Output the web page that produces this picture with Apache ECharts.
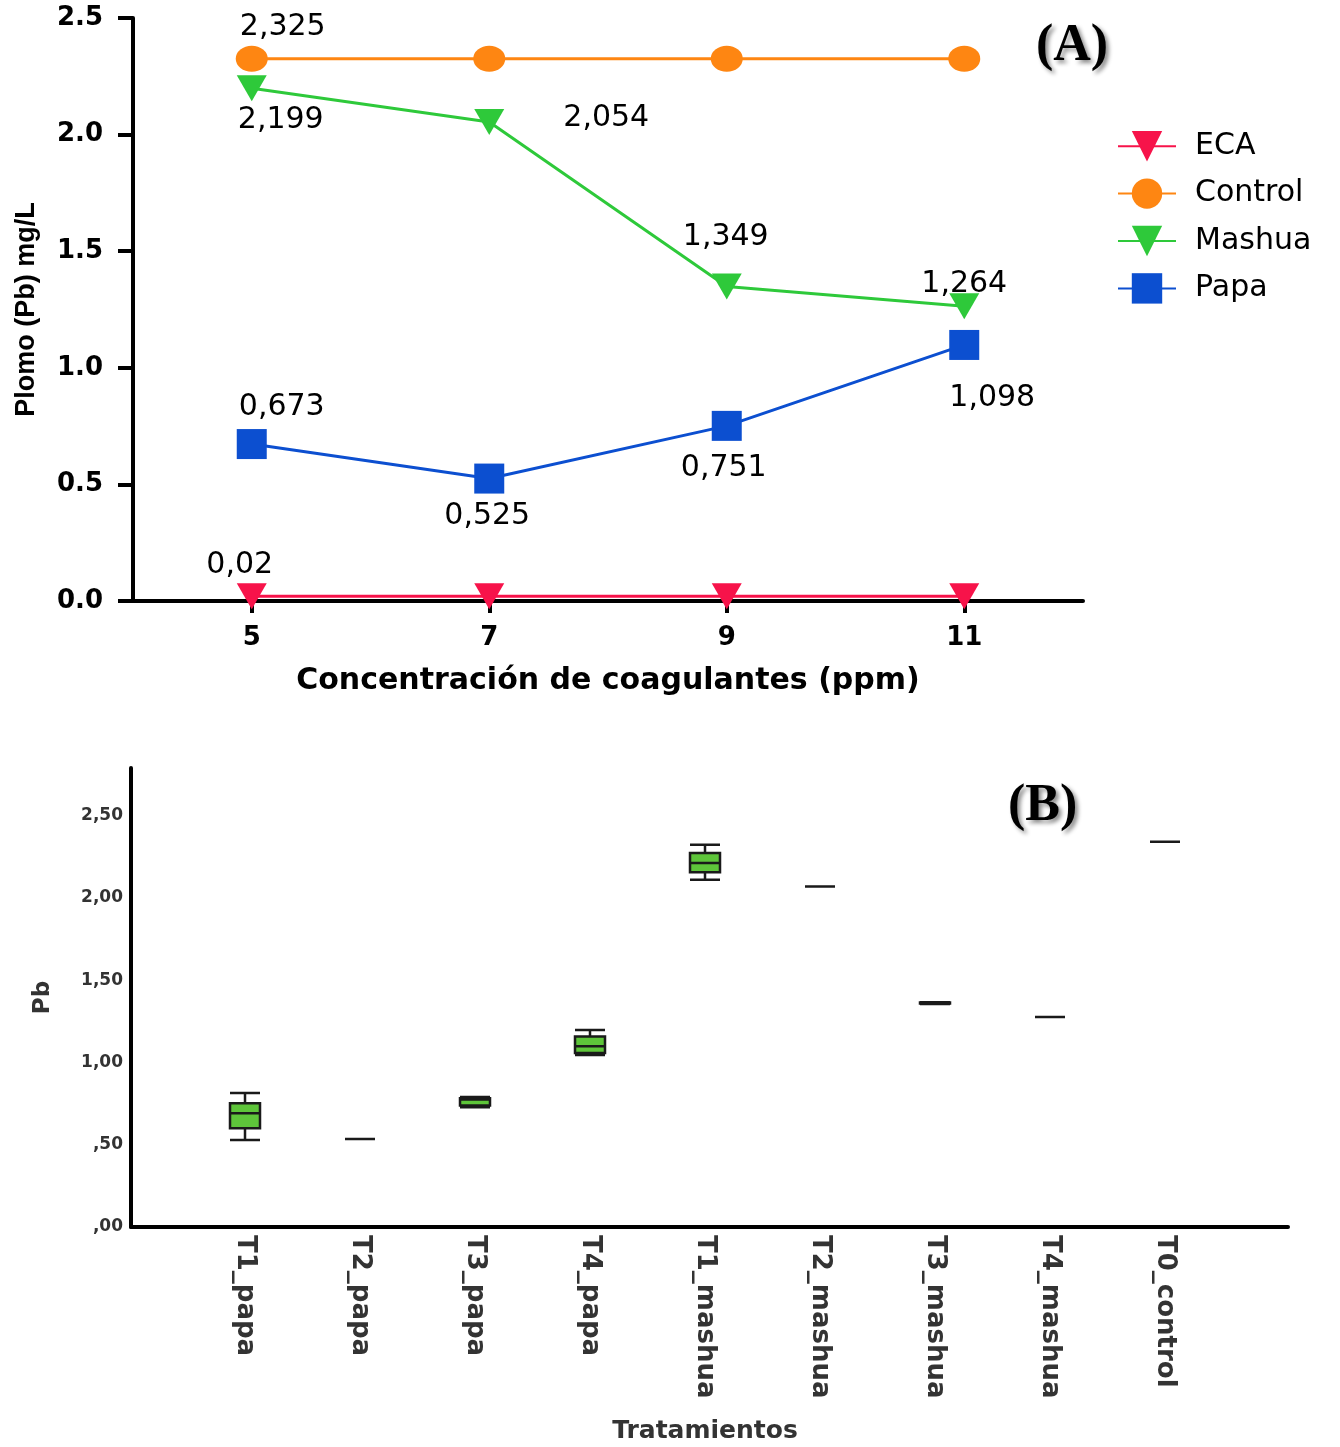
<!DOCTYPE html>
<html><head><meta charset="utf-8">
<script src="https://cdn.jsdelivr.net/npm/echarts@6/dist/echarts.min.js"></script>
<style>html,body{margin:0;padding:0;background:#fff}#c{width:1340px;height:1447px}</style>
</head><body><div id="c"></div>
<script>
// ---------- Data (A) ----------
const concentrations = [5, 7, 9, 11];
const ecaValues = [0.02, 0.02, 0.02, 0.02];
const controlValues = [2.325, 2.325, 2.325, 2.325];
const mashuaValues = [2.199, 2.054, 1.349, 1.264];
const papaValues = [0.673, 0.525, 0.751, 1.098];
const yTicksA = [0, 0.5, 1, 1.5, 2, 2.5];

// ---------- Data (B) ----------
const treatments = ['T1_papa','T2_papa','T3_papa','T4_papa','T1_mashua','T2_mashua','T3_mashua','T4_mashua','T0_control'];
// [min, Q1, median, Q3, max]
const boxT1papa   = [0.529, 0.601, 0.692, 0.752, 0.814];
const boxT2papa   = [0.535, 0.535, 0.535, 0.535, 0.535];
const boxT3papa   = [0.728, 0.738, 0.775, 0.783, 0.790];
const boxT4papa   = [1.046, 1.058, 1.098, 1.158, 1.198];
const boxT1mashua = [2.111, 2.156, 2.212, 2.273, 2.324];
const boxT2mashua = [2.070, 2.070, 2.070, 2.070, 2.070];
const boxT3mashua = [1.356, 1.358, 1.361, 1.364, 1.366];
const boxT4mashua = [1.276, 1.276, 1.276, 1.276, 1.276];
const boxT0control= [2.342, 2.342, 2.342, 2.342, 2.342];
const yTicksB = [0, 0.5, 1, 1.5, 2, 2.5];

const boxData = [boxT1papa, boxT2papa, boxT3papa, boxT4papa, boxT1mashua, boxT2mashua, boxT3mashua, boxT4mashua, boxT0control];

// ---------- Styles ----------
const labelFont = {fontFamily: 'DejaVu Sans', fontSize: 30, color: '#000'};
const fmtComma = v => String(v).replace('.', ',');

function lineSeries(name, vals, color, symbol, size, rotate, offsets) {
  return {
    name, type: 'line', xAxisIndex: 0, yAxisIndex: 0,
    symbol, symbolSize: size, symbolRotate: rotate,
    itemStyle: {color},
    lineStyle: {color, width: 3},
    z: 5,
    data: concentrations.map((c, i) => {
      const o = offsets[i];
      const d = {value: [c, vals[i]]};
      if (o) {
        d.label = Object.assign({show: true, position: 'inside', offset: o,
          formatter: p => fmtComma(p.value[1])}, labelFont);
      }
      return d;
    })
  };
}

const chart = echarts.init(document.getElementById('c'), null, {renderer: 'canvas'});

const titleShadow = {textShadowColor: 'rgba(0,0,0,0.45)', textShadowBlur: 4, textShadowOffsetX: 3, textShadowOffsetY: 3};

const option = {
  animation: false,
  backgroundColor: '#fff',
  title: [
    {text: '(A)', left: 1036, top: 21, padding: 0,
     textStyle: Object.assign({fontFamily: 'Liberation Serif', fontWeight: 'bold', fontSize: 52, color: '#000'}, titleShadow)},
    {text: '(B)', left: 1008, top: 781, padding: 0,
     textStyle: Object.assign({fontFamily: 'Liberation Serif', fontWeight: 'bold', fontSize: 52, color: '#000'}, titleShadow)}
  ],
  legend: {
    data: ['ECA', 'Control', 'Mashua', 'Papa'],
    orient: 'vertical', left: 1112, top: 126,
    itemWidth: 58, itemHeight: 38, itemGap: 17,
    textStyle: {fontFamily: 'DejaVu Sans', fontSize: 30, color: '#000', padding: [0, 0, 0, 14]}
  },
  grid: [
    {left: 133, right: 257, top: 18, bottom: 846},
    {left: 131, right: 52, top: 768, bottom: 220},
    {left: 187.5, right: 117.5, top: 768, bottom: 220}
  ],
  xAxis: [
    {gridIndex: 0, type: 'value', min: 4, max: 12, interval: 1,
     axisLine: {show: true, lineStyle: {color: '#000', width: 4}},
     axisTick: {show: true, customValues: concentrations, length: 12, lineStyle: {color: '#000', width: 4}},
     axisLabel: {customValues: concentrations, margin: 24, fontFamily: 'DejaVu Sans', fontWeight: 'bold', fontSize: 26, color: '#000'},
     splitLine: {show: false},
     name: 'Concentración de coagulantes (ppm)', nameLocation: 'middle', nameGap: 65,
     nameTextStyle: {fontFamily: 'DejaVu Sans', fontWeight: 'bold', fontSize: 30, color: '#000'}},
    {gridIndex: 1, type: 'value', min: 0, max: 1,
     axisLine: {show: true, onZero: false, lineStyle: {color: '#000', width: 4}},
     axisTick: {show: false}, axisLabel: {show: false}, splitLine: {show: false}},
    {gridIndex: 2, type: 'category', data: treatments,
     axisLine: {show: false}, axisTick: {show: false}, splitLine: {show: false},
     axisLabel: {rotate: -90, margin: 8, fontFamily: 'DejaVu Sans', fontWeight: 'bold', fontSize: 26, color: '#333', interval: 0},
     name: 'Tratamientos', nameLocation: 'middle', nameGap: 192,
     nameTextStyle: {fontFamily: 'DejaVu Sans', fontWeight: 'bold', fontSize: 25, color: '#333'}}
  ],
  yAxis: [
    {gridIndex: 0, type: 'value', min: 0, max: 2.5, interval: 0.5,
     axisLine: {show: true, lineStyle: {color: '#000', width: 4}},
     axisTick: {show: true, length: 15, lineStyle: {color: '#000', width: 4}},
     axisLabel: {margin: 30, fontFamily: 'DejaVu Sans', fontWeight: 'bold', fontSize: 26, color: '#000',
       formatter: v => yTicksA.some(t => Math.abs(t - v) < 1e-9) ? v.toFixed(1) : ''},
     splitLine: {show: false},
     name: 'Plomo (Pb) mg/L', nameLocation: 'middle', nameGap: 93,
     nameTextStyle: {fontFamily: 'Liberation Sans', fontWeight: 'bold', fontSize: 27, color: '#000'}},
    {gridIndex: 1, type: 'value', min: 0, max: 2.79, interval: 0.5,
     axisLine: {show: true, onZero: false, lineStyle: {color: '#000', width: 4}},
     axisTick: {show: false}, splitLine: {show: false},
     axisLabel: {margin: 8, fontFamily: 'DejaVu Sans', fontWeight: 'bold', fontSize: 17, color: '#333',
       formatter: v => yTicksB.some(t => Math.abs(t - v) < 1e-9) ? v.toFixed(2).replace('.', ',').replace(/^0/, '') : ''},
     name: 'Pb', nameLocation: 'middle', nameGap: 76,
     nameTextStyle: {fontFamily: 'DejaVu Sans', fontWeight: 'bold', fontSize: 23, color: '#333'}},
    {gridIndex: 2, type: 'value', min: 0, max: 2.79, show: false}
  ],
  series: [
    lineSeries('ECA', ecaValues, '#f7134a', 'triangle', [30, 26], 180, [[-12, -31], null, null, null]),
    lineSeries('Control', controlValues, '#fe8612', 'circle', [32, 26], 0, [[31, -32], null, null, null]),
    lineSeries('Mashua', mashuaValues, '#2ec93a', 'triangle', [30, 26], 180, [[29, 32], [117, -4], [-1, -49], [0, -22]]),
    lineSeries('Papa', papaValues, '#0c4fd0', 'rect', 30, 0, [[30, -37], [-2, 38], [-3, 42], [28, 53]]),
    {type: 'boxplot', xAxisIndex: 2, yAxisIndex: 2, boxWidth: [30, 30],
     itemStyle: {color: '#5ec53a', borderColor: '#1a1a1a', borderWidth: 2.5},
     data: boxData}
  ]
};
chart.setOption(option);
</script></body></html>
